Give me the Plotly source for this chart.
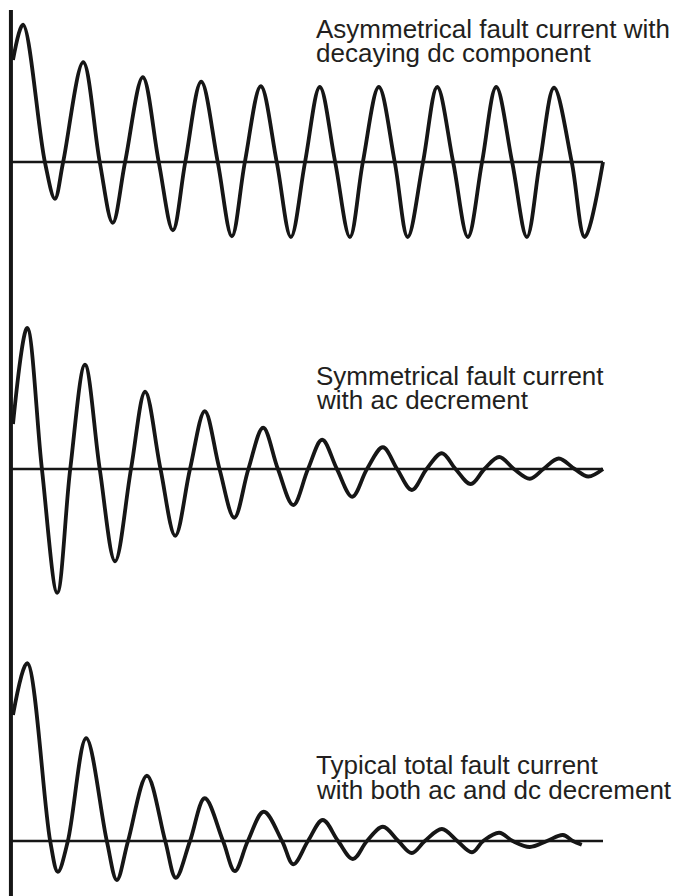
import plotly.graph_objects as go

# ---- data (time in cycles, current in per-unit) ----
asym_t = [0.0, 0.17, 0.54, 0.71, 0.85, 1.19, 1.47, 1.69, 1.90, 2.20, 2.47, 2.71, 2.92,
          3.19, 3.47, 3.71, 3.93, 4.20, 4.47, 4.71, 4.95, 5.20, 5.46, 5.71, 5.93,
          6.20, 6.47, 6.69, 6.95, 7.19, 7.46, 7.71, 7.95, 8.19, 8.46, 8.71, 8.93,
          9.17, 9.47, 9.69, 10.0]
asym_i = [1.36, 1.83, 0, -0.49, 0, 1.33, 0, -0.81, 0, 1.13, 0, -0.91, 0,
          1.07, 0, -0.99, 0, 1.01, 0, -1.00, 0, 1.00, 0, -1.00, 0,
          1.00, 0, -1.00, 0, 1.00, 0, -1.00, 0, 1.00, 0, -1.00, 0,
          0.99, 0, -1.00, 0]

sym_t = [0.0, 0.24, 0.49, 0.75, 0.97, 1.22, 1.47, 1.73, 2.00, 2.24, 2.50, 2.75, 3.00,
         3.25, 3.50, 3.75, 3.99, 4.24, 4.49, 4.75, 5.00, 5.24, 5.49, 5.75, 6.00,
         6.27, 6.51, 6.76, 7.01, 7.27, 7.50, 7.76, 7.99, 8.24, 8.49, 8.76, 8.99,
         9.25, 9.52, 9.75, 10.0]
sym_i = [0.60, 1.88, 0, -1.65, 0, 1.39, 0, -1.23, 0, 1.03, 0, -0.89, 0,
         0.77, 0, -0.65, 0, 0.55, 0, -0.48, 0, 0.39, 0, -0.37, 0,
         0.29, 0, -0.28, 0, 0.21, 0, -0.20, 0, 0.16, 0, -0.13, 0,
         0.14, 0, -0.10, 0]

tot_t = [0.0, 0.24, 0.63, 0.76, 0.93, 1.24, 1.59, 1.76, 1.95, 2.27, 2.58, 2.76, 3.00,
         3.25, 3.56, 3.76, 3.98, 4.25, 4.56, 4.75, 5.00, 5.25, 5.51, 5.76, 6.00,
         6.27, 6.53, 6.76, 6.98, 7.27, 7.53, 7.78, 7.97, 8.24, 8.47, 8.76, 9.05,
         9.32, 9.49, 9.64]
tot_i = [1.68, 2.37, 0, -0.41, 0, 1.37, 0, -0.52, 0, 0.87, 0, -0.49, 0,
         0.57, 0, -0.40, 0, 0.39, 0, -0.31, 0, 0.28, 0, -0.24, 0,
         0.19, 0, -0.16, 0, 0.16, 0, -0.15, 0, 0.11, 0, -0.08, 0,
         0.08, 0, -0.05]

labels = [
    ["Asymmetrical fault current with", "decaying dc component"],
    ["Symmetrical fault current", "with ac decrement"],
    ["Typical total fault current", "with both ac and dc decrement"],
]
t_end = 10.0

# ---- layout constants (pixels) ----
W, H = 679, 896
X0_PX, PX_PER_CYCLE = 13, 59
PX_PER_UNIT = 75
ZERO_PX = [162, 469, 841]           # zero line of each panel, from top
BASELINES = [[39, 63], [386, 410], [775, 800]]
INK = "#161616"
TEXT = "#231f20"

fig = go.Figure()
series = [(asym_t, asym_i), (sym_t, sym_i), (tot_t, tot_i)]
yaxes = ["y", "y2", "y3"]
for (tt, ii), ya in zip(series, yaxes):
    fig.add_trace(go.Scatter(x=tt, y=ii, yaxis=ya, mode="lines",
                             line=dict(color=INK, width=3.8, shape="spline", smoothing=1.0),
                             hoverinfo="skip", showlegend=False))

xr = [-X0_PX / PX_PER_CYCLE, (W - X0_PX) / PX_PER_CYCLE]
axis_common = dict(visible=False, showgrid=False, zeroline=False, fixedrange=True)
layout = dict(
    width=W, height=H, autosize=False,
    margin=dict(l=0, r=0, t=0, b=0, pad=0),
    paper_bgcolor="white", plot_bgcolor="white",
    xaxis=dict(range=xr, **axis_common),
    showlegend=False,
)
for k, z in enumerate(ZERO_PX):
    rng = [-(H - z) / PX_PER_UNIT, z / PX_PER_UNIT]
    name = "yaxis" if k == 0 else f"yaxis{k+1}"
    ax = dict(range=rng, domain=[0, 1], **axis_common)
    if k > 0:
        ax["overlaying"] = "y"
    layout[name] = ax
fig.update_layout(**layout)

# vertical axis line
fig.add_shape(type="line", xref="x", yref="paper", x0=-0.035, x1=-0.035,
              y0=0, y1=1 - 10 / H, line=dict(color=INK, width=4))
# zero lines
for ya in yaxes:
    fig.add_shape(type="line", xref="x", yref=ya, x0=-0.035, x1=t_end, y0=0, y1=0,
                  line=dict(color=INK, width=2.6))

# labels
FS = 26
for lines, bls in zip(labels, BASELINES):
    for txt, bl in zip(lines, bls):
        fig.add_annotation(text=txt, xref="paper", yref="paper",
                           x=315 / W, y=(H - bl - 0.21 * FS - 1) / H,
                           xanchor="left", yanchor="bottom", showarrow=False,
                           borderpad=0,
                           font=dict(family="Liberation Sans, Arial, sans-serif",
                                     size=FS, color=TEXT))

fig.write_html("out.html", config={"displayModeBar": False},
               post_script="document.body.style.margin='0';document.body.style.padding='0';")
